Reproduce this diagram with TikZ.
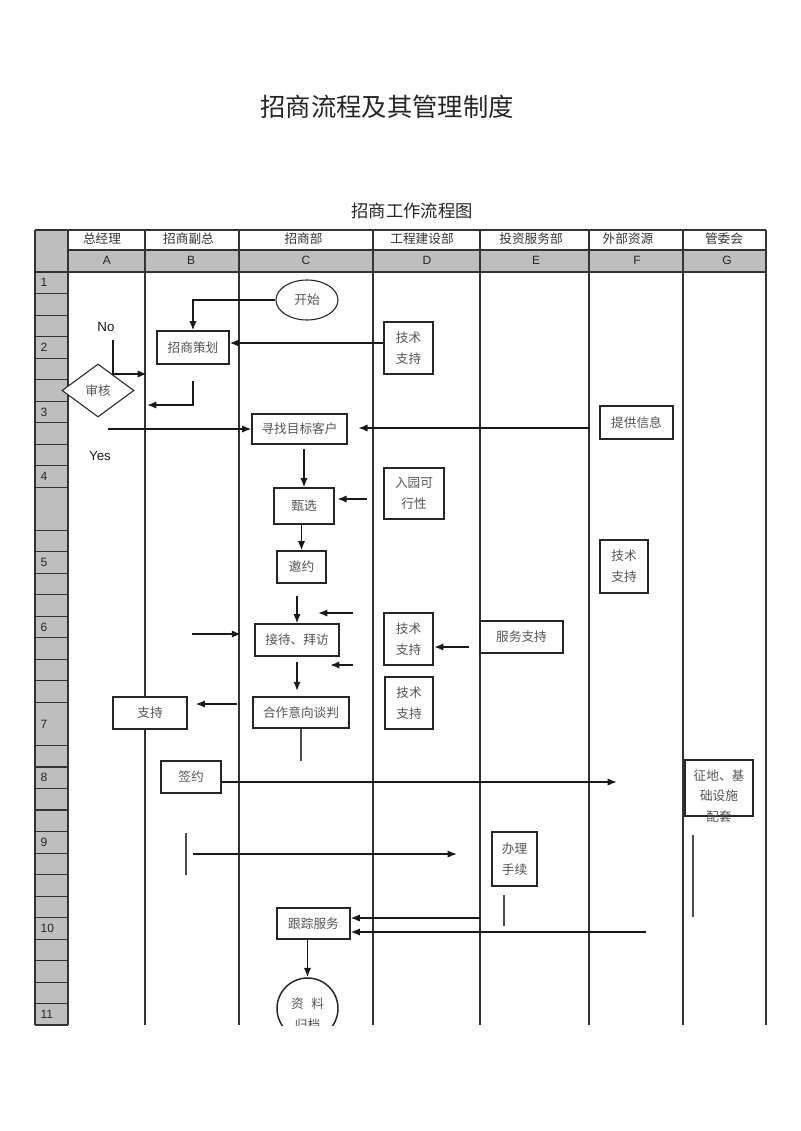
\documentclass[tikz,border=0pt]{standalone}
\usepackage{fontspec}
\setmainfont{Liberation Sans}
\newfontfamily\cjk{Noto Sans CJK SC}
\usetikzlibrary{shapes.geometric,arrows.meta}
\definecolor{gridgray}{HTML}{BEBEBE}
\definecolor{linegray}{HTML}{333333}
\definecolor{txtgray}{HTML}{555555}
\tikzset{
 tbl/.style={draw=linegray, line width=0.8pt},
 wh/.style 2 args={minimum width=#1*0.75pt, minimum height=#2*0.75pt},
 box/.style={draw=black!85, line width=0.8pt, fill=white, inner sep=0pt, font=\cjk\fontsize{9.5}{15.5}\selectfont, text=txtgray, align=center},
 boldbox/.style={box, line width=1.6pt},
 arr/.style={draw=black!90, line width=1.3pt, -{Latex[length=7pt,width=5.5pt]}},
 thinln/.style={draw=black!70, line width=0.8pt},
 hdr/.style={font=\cjk\fontsize{9.5}{11}\selectfont, text=black!80},
 colletter/.style={font=\fontsize{9}{10}\selectfont, text=black!85},
 rnum/.style={font=\fontsize{9}{10}\selectfont, text=black!85, anchor=west},
 yesno/.style={font=\fontsize{10}{12}\selectfont, text=black!90},
}
\begin{document}
\begin{tikzpicture}[x=0.75pt,y=-0.75pt]
\useasboundingbox[fill=white] (0,0) rectangle (800,1131);

% titles
\node[font=\cjk\fontsize{19}{22}\selectfont, text=black!85] (title) at (387,107) {招商流程及其管理制度};
\node[font=\cjk\fontsize{13}{15}\selectfont, text=black!85] (subtitle) at (412,211) {招商工作流程图};

% grid background
\fill[gridgray] (35,230) rectangle (68,1025);
\fill[gridgray] (68,250) rectangle (766,272);
\draw[tbl] (35,230) -- (766,230);
\draw[tbl] (68,250) -- (766,250);
\draw[tbl] (35,272) -- (766,272);
\draw[tbl] (35,1025) -- (68,1025);
\foreach \xx in {35,68,145,239,373,480,589,683,766} {
  \draw[tbl] (\xx,230) -- (\xx,1025);
}
\foreach \k in {1,...,34} {
  \ifnum\k=11\relax\else\ifnum\k=21\relax\else
    \draw[tbl] (35,{272+21.52*\k}) -- (68,{272+21.52*\k});
  \fi\fi
}
% row numbers
\foreach \lab/\yy in {1/282.8,2/347.3,3/411.9,4/476.4,5/562.5,6/627,7/724,8/777.7,9/842.3,10/928.4,11/1014.4} {
  \node[rnum] at (36,\yy) {\lab};
}
% header names
\node[hdr] at (102,239) {总经理};
\node[hdr] at (188.5,239) {招商副总};
\node[hdr] at (303.5,239) {招商部};
\node[hdr] at (422,239) {工程建设部};
\node[hdr] at (531,239) {投资服务部};
\node[hdr] at (628,239) {外部资源};
\node[hdr] at (724,239) {管委会};
% letters
\node[colletter] at (107,260) {A};
\node[colletter] at (191,260) {B};
\node[colletter] at (306,260) {C};
\node[colletter] at (427,260) {D};
\node[colletter] at (536,260) {E};
\node[colletter] at (637,260) {F};
\node[colletter] at (727,260) {G};

% nodes
\node[box, ellipse, wh={62}{40}] (start) at (307,300) {开始};
\node[box, wh={72}{33}] (cehua) at (193,347.5) {招商策划};
\node[boldbox, wh={49}{52}] (js1) at (408.5,348) {技术\\支持};
\node[box, diamond, wh={72}{53}] (shenhe) at (98,390.5) {审核};
\node[yesno] (no) at (106,327) {No};
\node[yesno] (yes) at (100,456) {Yes};
\node[box, wh={95}{30}] (xunzhao) at (299.5,429) {寻找目标客户};
\node[box, wh={73}{33}] (tigong) at (636.5,422.5) {提供信息};
\node[box, wh={60}{36}] (zhenxuan) at (304,506) {甄选};
\node[boldbox, wh={60}{51}] (ruyuan) at (414,493.5) {入园可\\行性};
\node[box, wh={49}{32}] (yaoyue) at (301.5,567) {邀约};
\node[box, wh={48}{53}] (js3) at (624,566.5) {技术\\支持};
\node[box, wh={84}{32}] (jiedai) at (297,640) {接待、拜访};
\node[boldbox, wh={49}{52}] (js2) at (408.5,639) {技术\\支持};
\node[box, wh={83}{32}] (fuwu) at (521.5,637) {服务支持};
\node[box, wh={48}{52}] (js4) at (409,703) {技术\\支持};
\node[box, wh={96}{31}] (tanpan) at (301,712.5) {合作意向谈判};
\node[box, wh={74}{32}] (zhichi) at (150,713) {支持};
\node[box, wh={60}{32}] (qianyue) at (191,777) {签约};
\node[box, wh={68}{56}] (zhengdi) at (719,788) {};
\node[box, draw=none, fill=none] (zhengditxt) at (719,796) {征地、基\\础设施\\配套};
\node[box, wh={45}{54}] (banli) at (514.5,859) {办理\\手续};
\node[box, wh={73}{31}] (genzong) at (313.5,923.5) {跟踪服务};
\begin{scope}
  \clip (0,0) rectangle (800,1025);
  \node[box, circle, line width=1.1pt, wh={61}{61}] (ziliao) at (307.5,1008.5) {};
  \node[box, draw=none, fill=none] (ziliaotxt) at (307.5,1014.5) {资\hspace{0.6em}料\\归档};
\end{scope}

% coordinates for free ends
\coordinate (noA) at (113,340);
\coordinate (noB) at (113,374);
\coordinate (noC) at (147,374);
\coordinate (cbA) at (193,381);
\coordinate (cbB) at (147,405);
\coordinate (yesA) at (108,429);
\coordinate (tgA) at (590,428);
\coordinate (ryA) at (367,499);
\coordinate (f1a) at (353,613);
\coordinate (f1b) at (318,613);
\coordinate (f2a) at (353,665);
\coordinate (f2b) at (330,665);
\coordinate (b6a) at (192,634);
\coordinate (tpA) at (237,704);
\coordinate (tpT) at (299,761);
\coordinate (qyE) at (617,782);
\coordinate (fwA) at (469,647);
\coordinate (g1) at (693,835);
\coordinate (g2) at (693,917);
\coordinate (r9a) at (186,833);
\coordinate (r9b) at (186,875);
\coordinate (r9c) at (193,854);
\coordinate (r9d) at (457,854);
\coordinate (blT) at (504,895);
\coordinate (blB) at (504,926);
\coordinate (gzA) at (480,918);
\coordinate (gzB) at (646,932);
\coordinate (a1) at ([yshift=3.75pt]js1.west);

% connectors
\draw[arr] (start.west) -| (cehua.north);
\draw[arr] (a1) -- (a1 -| cehua.east);
\draw[arr] (noA) -- (noB) -- (noC);
\draw[arr] (cbA) |- (cbB);
\draw[arr] (yesA) -- (yesA -| xunzhao.west);
\draw[arr, shorten >=8pt] (tgA) -- (tgA -| xunzhao.east);
\draw[arr, shorten <=3pt] (zhenxuan.north |- xunzhao.south) -- (zhenxuan.north);
\draw[arr, shorten >=2pt] (ryA) -- (ryA -| zhenxuan.east);
\draw[arr] (yaoyue.north |- zhenxuan.south) -- (yaoyue.north);
\draw[arr, shorten <=9pt] (jiedai.north |- yaoyue.south) -- (jiedai.north);
\draw[arr] (f1a) -- (f1b);
\draw[arr] (f2a) -- (f2b);
\draw[arr, shorten >=10pt] (b6a) -- (b6a -| jiedai.west);
\draw[arr, shorten <=4pt, shorten >=4pt] (jiedai.south) -- (jiedai.south |- tanpan.north);
\draw[arr, shorten >=6pt] (tpA) -- (tpA -| zhichi.east);
\draw[thinln] (tanpan.south) -- (tanpan.south |- tpT);
\draw[arr] (qianyue.east |- qyE) -- (qyE);
\draw[arr] (fwA) -- (fwA -| js2.east);
\draw[thinln] (g1) -- (g2);
\draw[thinln] (r9a) -- (r9b);
\draw[arr] (r9c) -- (r9d);
\draw[thinln] (blT) -- (blB);
\draw[arr] (gzA) -- (gzA -| genzong.east);
\draw[arr] (gzB) -- (gzB -| genzong.east);
\draw[arr] (ziliao.north |- genzong.south) -- (ziliao.north);
\end{tikzpicture}
\end{document}
